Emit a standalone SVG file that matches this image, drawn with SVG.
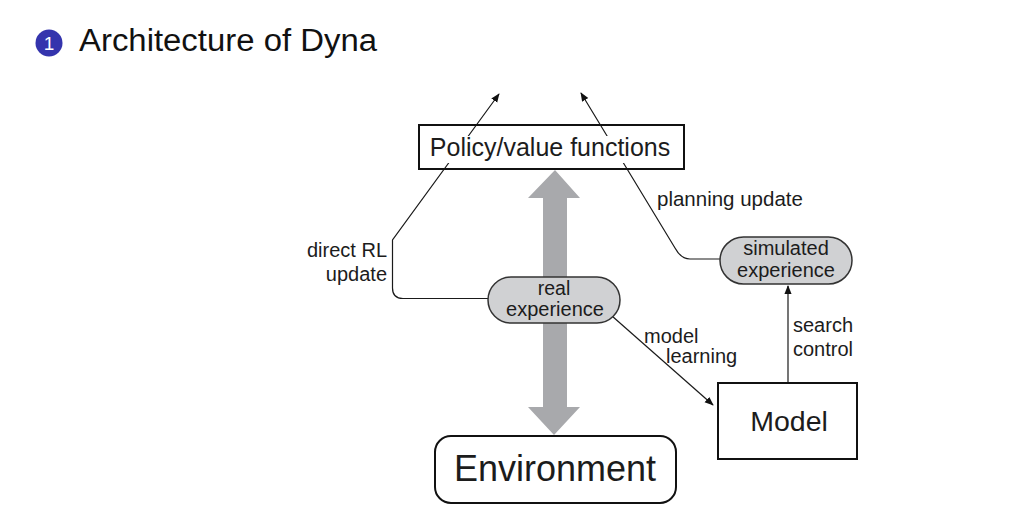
<svg xmlns="http://www.w3.org/2000/svg" width="1027" height="521" viewBox="0 0 1027 521">
<style>
.lbl{font-family:"Liberation Sans",Arial,sans-serif;fill:#1c1c1c}
.edge{fill:none;stroke:#1a1a1a;stroke-width:1.2}
.pill{fill:#d0d1d3;stroke:#333;stroke-width:1.5}
.box{fill:#fff;stroke:#111;stroke-width:2}
</style>
<defs>
<marker id="ah" viewBox="0 0 10 10" refX="9" refY="5" markerWidth="9" markerHeight="9" markerUnits="userSpaceOnUse" orient="auto">
<path d="M0,1 L10,5 L0,9 Z" fill="#111"/>
</marker>
</defs>
<rect width="1027" height="521" fill="#fff"/>
<g id="title">
<circle cx="49" cy="43" r="13.5" fill="#3434ad"/>
<text x="49" y="50" text-anchor="middle" font-family="Liberation Sans,sans-serif" font-size="19" fill="#fff">1</text>
<text x="79" y="51" font-family="Liberation Sans,sans-serif" font-size="31" fill="#111" textLength="298" lengthAdjust="spacingAndGlyphs">Architecture of Dyna</text>
</g>
<g id="bigarrow">
<path d="M555,170 L580,198 L567,198 L567,407 L580,407 L554,435 L528,407 L543,407 L543,198 L528,198 Z" fill="#a8a9ac"/>
</g>
<g id="connectors">
<path class="edge" d="M488,298.5 L403,298.5 Q392.5,298.5 392.5,288 L392.5,240 L499,94" marker-end="url(#ah)"/>
<path class="edge" d="M720,259 L690,259 Q681,259 675,248 L581,93" marker-end="url(#ah)"/>
<path class="edge" d="M612,316 L713,405" marker-end="url(#ah)"/>
<path class="edge" d="M788,384 L788,286" marker-end="url(#ah)"/>
</g>
<g id="policy">
<rect class="box" x="419" y="125" width="265" height="44" style="fill:none"/>
<rect x="426" y="136" width="251" height="27" fill="#fff"/>
<text class="lbl" x="550" y="156" text-anchor="middle" font-size="25">Policy/value functions</text>
</g>
<g id="real">
<rect class="pill" x="488" y="277" width="132" height="46" rx="23"/>
<text class="lbl" x="554" y="295" text-anchor="middle" font-size="19.5">real</text>
<text class="lbl" x="555" y="316" text-anchor="middle" font-size="20">experience</text>
</g>
<g id="simulated">
<rect class="pill" x="720" y="237" width="132" height="47" rx="23.5"/>
<text class="lbl" x="786" y="255" text-anchor="middle" font-size="20">simulated</text>
<text class="lbl" x="786" y="277" text-anchor="middle" font-size="20">experience</text>
</g>
<g id="model">
<rect class="box" x="718" y="383" width="139" height="76"/>
<text class="lbl" x="789" y="431" text-anchor="middle" font-size="28.5">Model</text>
</g>
<g id="environment">
<rect class="box" x="435" y="436" width="241" height="67" rx="16"/>
<text class="lbl" x="555" y="481" text-anchor="middle" font-size="36">Environment</text>
</g>
<g id="labels">
<text class="lbl" x="387" y="257" text-anchor="end" font-size="20">direct RL</text>
<text class="lbl" x="387" y="281" text-anchor="end" font-size="20">update</text>
<text class="lbl" x="657" y="206" font-size="20.5">planning update</text>
<text class="lbl" x="644" y="343" font-size="20">model</text>
<text class="lbl" x="666" y="363" font-size="20">learning</text>
<text class="lbl" x="793" y="332" font-size="20">search</text>
<text class="lbl" x="793" y="356" font-size="20">control</text>
</g>
</svg>
